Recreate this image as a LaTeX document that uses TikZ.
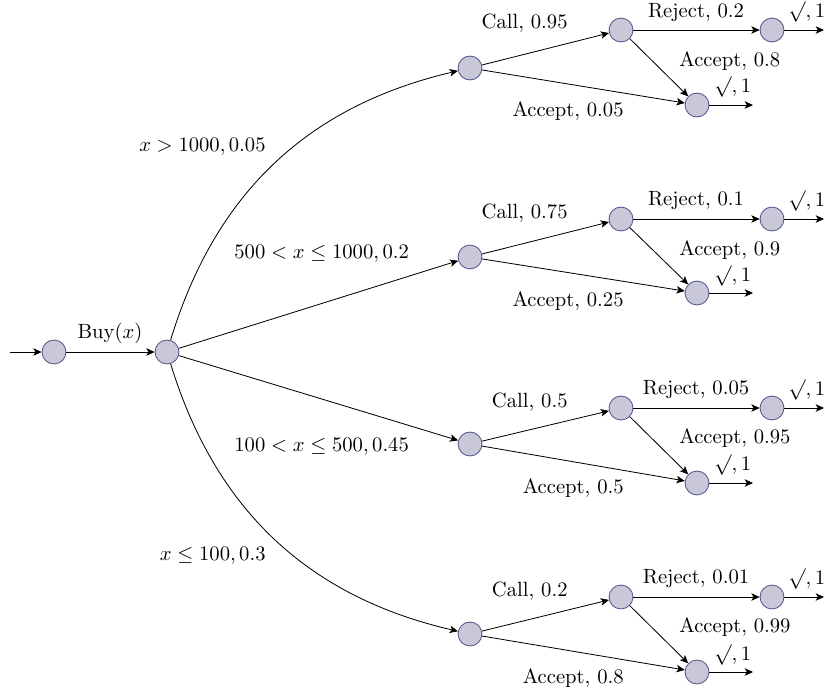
\documentclass[tikz,border=0pt]{standalone}
\usetikzlibrary{arrows.meta}
\definecolor{stfill}{RGB}{200,200,216}
\definecolor{stdraw}{RGB}{84,84,142}
\begin{document}
\begin{tikzpicture}[x=0.485pt,y=-0.485pt,
  st/.style={circle,draw=stdraw,fill=stfill,minimum size=11.6pt,inner sep=0pt},
  lab/.style={inner sep=0pt,font=\normalsize},
  >={Stealth[length=4pt,width=3.6pt,inset=1pt]},
  arr/.style={->}]
\useasboundingbox (0,0) rectangle (825,692);
% states
\coordinate (s0) at (10,352);
\node[st] (a) at (54,352) {};
\node[st] (b) at (167,352) {};
\foreach \i/\y in {1/68,2/257,3/444,4/634}{
  \node[st] (c\i) at (470,\y) {};
}
\foreach \i/\y in {1/30,2/219,3/408,4/597}{
  \node[st] (d\i) at (621,\y) {};
  \node[st] (e\i) at (772,\y) {};
  \coordinate (eo\i) at (824,\y);
}
\foreach \i/\y in {1/105,2/293,3/483,4/672}{
  \node[st] (f\i) at (697,\y) {};
  \coordinate (fo\i) at (753,\y);
}
% edges
\draw[arr] (s0) -- (a);
\draw[arr] (a) -- (b);
\draw[arr] (b) to[bend left=30] (c1);
\draw[arr] (b) -- (c2);
\draw[arr] (b) -- (c3);
\draw[arr] (b) to[bend right=30] (c4);
\foreach \i in {1,2,3,4}{
  \draw[arr] (c\i) -- (d\i);
  \draw[arr] (c\i) -- (f\i);
  \draw[arr] (d\i) -- (e\i);
  \draw[arr] (d\i) -- (f\i);
  \draw[arr] (e\i) -- (eo\i);
  \draw[arr] (f\i) -- (fo\i);
}
% labels
\node[lab] (lbuy) at (110,333) {Buy$(x)$};
\node[lab,anchor=east] (lb1) at (266,147) {$x>1000, 0.05$};
\node[lab,anchor=west] (lb2) at (234,254) {$500<x\le 1000, 0.2$};
\node[lab,anchor=west] (lb3) at (234,447) {$100<x\le 500, 0.45$};
\node[lab,anchor=east] (lb4) at (266,556) {$x\le 100, 0.3$};
% row labels
\node[lab,anchor=east] (call1) at (568,23) {Call, $0.95$};
\node[lab,anchor=east] (call2) at (568,213) {Call, $0.75$};
\node[lab,anchor=east] (call3) at (568,402) {Call, $0.5$};
\node[lab,anchor=east] (call4) at (568,591) {Call, $0.2$};
\node[lab,anchor=east] (acc1) at (624,111) {Accept, $0.05$};
\node[lab,anchor=east] (acc2) at (624,301) {Accept, $0.25$};
\node[lab,anchor=east] (acc3) at (624,488) {Accept, $0.5$};
\node[lab,anchor=east] (acc4) at (624,678) {Accept, $0.8$};
\node[lab] (rej1) at (696,13) {Reject, $0.2$};
\node[lab] (rej2) at (696,201) {Reject, $0.1$};
\node[lab] (rej3) at (696,390) {Reject, $0.05$};
\node[lab] (rej4) at (696,579) {Reject, $0.01$};
\node[lab,anchor=west] (acd1) at (679,61) {Accept, $0.8$};
\node[lab,anchor=west] (acd2) at (679,250) {Accept, $0.9$};
\node[lab,anchor=west] (acd3) at (679,438) {Accept, $0.95$};
\node[lab,anchor=west] (acd4) at (679,627) {Accept, $0.99$};
\foreach \i/\y in {1/87,2/276,3/465,4/655}{
  \node[lab,anchor=west] (fs\i) at (714,\y) {$\surd, 1$};
}
\foreach \i/\y in {1/12,2/201,3/390,4/579}{
  \node[lab,anchor=west] (es\i) at (788,\y) {$\surd, 1$};
}
\end{tikzpicture}
\end{document}
